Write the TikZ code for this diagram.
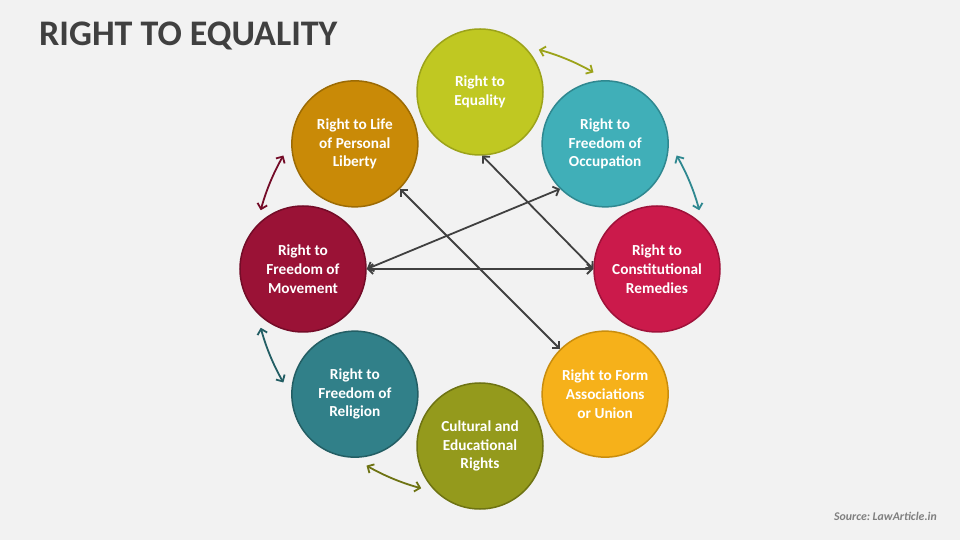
\documentclass[tikz,border=0pt]{standalone}
\usepackage{fontspec}
\setmainfont{Carlito}
\usetikzlibrary{arrows.meta}
\frenchspacing
\definecolor{bg}{HTML}{F2F2F2}
\definecolor{titlec}{HTML}{404040}
\definecolor{srcc}{HTML}{7F7F7F}
\definecolor{linec}{HTML}{404040}
\definecolor{eqF}{HTML}{C0C822}\definecolor{eqD}{HTML}{9CA31A}
\definecolor{ocF}{HTML}{40AFB8}\definecolor{ocD}{HTML}{2F8890}
\definecolor{reF}{HTML}{CB1A4B}\definecolor{reD}{HTML}{A0123A}
\definecolor{asF}{HTML}{F6B11A}\definecolor{asD}{HTML}{C98D0D}
\definecolor{cuF}{HTML}{949A1C}\definecolor{cuD}{HTML}{6E7313}
\definecolor{rlF}{HTML}{318089}\definecolor{rlD}{HTML}{235E64}
\definecolor{mvF}{HTML}{9A1236}\definecolor{mvD}{HTML}{740C28}
\definecolor{lfF}{HTML}{C98A07}\definecolor{lfD}{HTML}{9C6B04}
\begin{document}
\begin{tikzpicture}[x=1pt,y=1pt,
  rightbox/.style={circle, minimum size=126pt, inner sep=0pt, line width=1.5pt,
    text=white, align=center, font=\fontsize{15.3}{18.7}\selectfont\bfseries},
  link/.style={draw=linec, line width=1.8pt, {Straight Barb[length=5pt,width=10pt]}-{Straight Barb[length=5pt,width=10pt]}},
  ring/.style={line width=1.8pt, {Straight Barb[length=5pt,width=10pt]}-{Straight Barb[length=5pt,width=10pt]}}]
\fill[bg] (-480,-271) rectangle (480,269);
\useasboundingbox (-480,-271) rectangle (480,269);
\node[anchor=base west, text=titlec, font=\fontsize{36}{40}\selectfont\bfseries, inner sep=0pt] (title) at (-441,223) {RIGHT TO EQUALITY};
\node[anchor=base east, text=srcc, font=\fontsize{11.8}{14}\selectfont\bfseries\itshape, inner sep=0pt] (src) at (457,-251) {Source: LawArticle.in};
\node[rightbox, fill=eqF, draw=eqD] (eq) at (90:177) {Right to\\Equality};
\node[rightbox, fill=ocF, draw=ocD] (oc) at (45:177) {Right to\\Freedom of\\Occupation};
\node[rightbox, fill=reF, draw=reD] (re) at (0:177) {Right to\\Constitutional\\Remedies};
\node[rightbox, fill=asF, draw=asD] (as) at (-45:177) {Right to Form\\Associations\\or Union};
\node[rightbox, fill=cuF, draw=cuD] (cu) at (-90:177) {Cultural and\\Educational\\Rights};
\node[rightbox, fill=rlF, draw=rlD] (rl) at (-135:177) {Right to\\Freedom of\\Religion};
\node[rightbox, fill=mvF, draw=mvD] (mv) at (180:177) {Right to\\Freedom of\\Movement};
\node[rightbox, fill=lfF, draw=lfD] (lf) at (135:177) {Right to Life\\of Personal\\Liberty};
% straight connectors
\draw[link] (eq.-88) -- (re.180);
\draw[link] (mv.0) -- (re.180);
\draw[link] (mv.0) -- (oc.-135);
\draw[link] (lf.-45) -- (as.135);
% ring connectors
\coordinate (c) at (0,0);
\draw[ring, draw=eqD] ([shift={(75:227)}]c) arc[start angle=75, end angle=60, radius=227];
\draw[ring, draw=ocD] ([shift={(30:227)}]c) arc[start angle=30, end angle=15, radius=227];
\draw[ring, draw=mvD] ([shift={(150:227)}]c) arc[start angle=150, end angle=165, radius=227];
\draw[ring, draw=rlD] ([shift={(195:227)}]c) arc[start angle=195, end angle=210, radius=227];
\draw[ring, draw=cuD] ([shift={(240:227)}]c) arc[start angle=240, end angle=255, radius=227];
\end{tikzpicture}
\end{document}
